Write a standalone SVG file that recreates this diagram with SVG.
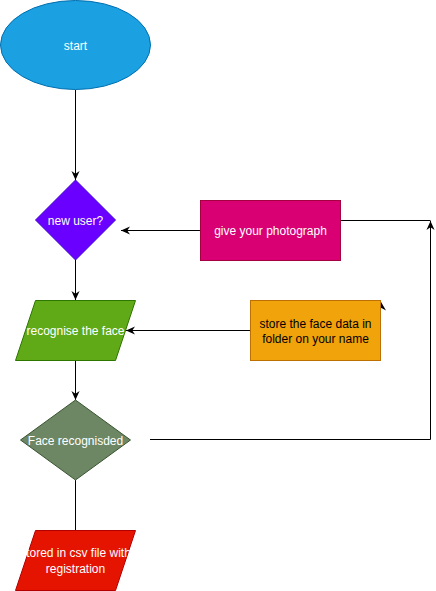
<svg xmlns="http://www.w3.org/2000/svg" width="436" height="591" viewBox="0 0 436 591">
<defs>
<marker id="arr" viewBox="0 0 10 10" refX="10" refY="5" markerWidth="9" markerHeight="9" markerUnits="userSpaceOnUse" orient="auto">
<path d="M0,0.5 L10,5 L0,9.5 L3,5 z" fill="#000"/>
</marker>
<style>
.t{font-family:"Liberation Sans",Arial,sans-serif;font-size:12px;text-anchor:middle;fill:#fff}
.dk{fill:#000}
.e{fill:none;stroke:#000;stroke-width:1}
</style>
</defs>
<rect width="436" height="591" fill="#fff"/>
<g id="connectors">
<path class="e" d="M75.5,90 V180" marker-end="url(#arr)"/>
<path class="e" d="M200,230.5 H121" marker-end="url(#arr)"/>
<path class="e" d="M75.5,260 V300" marker-end="url(#arr)"/>
<path class="e" d="M250,330.5 H126" marker-end="url(#arr)"/>
<path class="e" d="M75.5,360 V400" marker-end="url(#arr)"/>
<path class="e" d="M75.5,480 V530"/>
<path class="e" d="M150,439.5 H430.5 V221" marker-end="url(#arr)"/>
<path class="e" d="M340,220.5 H430.5"/>
<polygon points="380.5,301 386,310.5 381.5,308 377,311" fill="#000"/>
</g>
<g id="start">
<ellipse cx="75.5" cy="45" rx="75" ry="44.5" fill="#1ba1e2" stroke="#006eaf"/>
<text class="t" x="75.5" y="49.5">start</text>
</g>
<g id="new-user">
<polygon points="75.5,180 115.5,220 75.5,260 35.5,220" fill="#6a00ff" stroke="#3700cc"/>
<text class="t" x="75.5" y="225">new user?</text>
</g>
<g id="give-photo">
<rect x="200.5" y="200.5" width="140" height="60" fill="#d80073" stroke="#a50040"/>
<text class="t" x="270.5" y="235">give your photograph</text>
</g>
<g id="recognise">
<polygon points="35.5,300.5 135.5,300.5 115.5,360.5 15.5,360.5" fill="#60a917" stroke="#2d7600"/>
<text class="t" x="75.5" y="335">recognise the face</text>
</g>
<g id="store-face">
<rect x="250.5" y="300.5" width="130" height="60" fill="#f0a30a" stroke="#bd7000"/>
<text class="t dk" x="315.5" y="328">store the face data in</text>
<text class="t dk" x="315.5" y="343">folder on your name</text>
</g>
<g id="face-recognised">
<polygon points="75.5,400 130.5,440 75.5,480 20.5,440" fill="#6d8764" stroke="#3a5431"/>
<text class="t" x="75.5" y="445">Face recognisded</text>
</g>
<g id="stored-csv">
<polygon points="35.5,530.5 135.5,530.5 115.5,590.5 15.5,590.5" fill="#e51400" stroke="#b20000"/>
<text class="t" x="75.5" y="557">stored in csv file with</text>
<text class="t" x="75.5" y="573">registration</text>
</g>
</svg>
